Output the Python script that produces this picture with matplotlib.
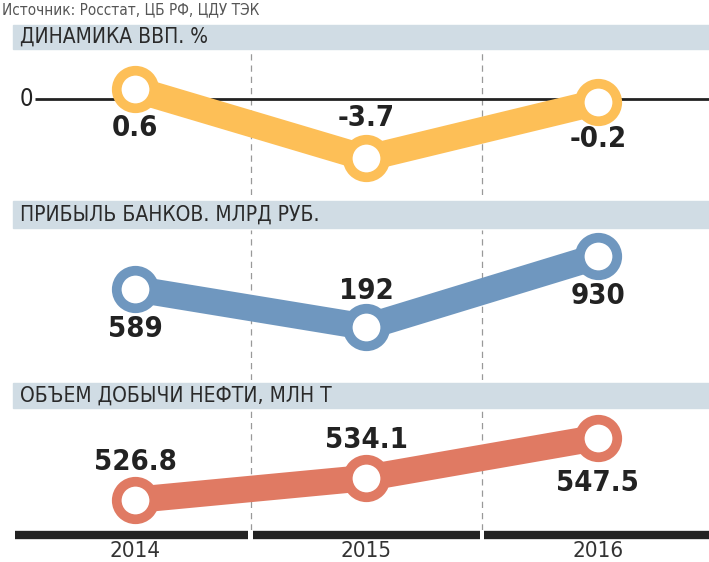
import matplotlib.pyplot as plt
from matplotlib.patches import Rectangle
from matplotlib import font_manager

years = ['2014', '2015', '2016']
gdp = [0.6, -3.7, -0.2]
gdp_labels = ['0.6', '-3.7', '-0.2']
banks = [589, 192, 930]
banks_labels = ['589', '192', '930']
oil = [526.8, 534.1, 547.5]
oil_labels = ['526.8', '534.1', '547.5']

# pick a condensed face if one is installed
fonts = font_manager.fontManager.ttflist
cond = [f for f in fonts if 'condensed' in str(f.stretch).lower() or 'Narrow' in f.name
        or 'Condensed' in f.name]
fam = cond[0].name if cond else 'DejaVu Sans'
plt.rcParams['font.family'] = [fam, 'DejaVu Sans']
plt.rcParams['font.stretch'] = 'condensed'

W, H = 709, 562
fig = plt.figure(figsize=(W / 100, H / 100), dpi=100)

def px_axes(top, bottom):
    return fig.add_axes([0, 1 - bottom / H, 1, (bottom - top) / H])

XLIM = (-0.583, 2.48)
xs = [0, 1, 2]
DARK = '#222222'

def panel(ax, vals, labels, color, ylim, offsets):
    ax.set_xlim(*XLIM)
    ax.set_ylim(*ylim)
    ax.axis('off')
    for xv in (0.5, 1.5):
        ax.axvline(xv, color='#999999', lw=0.9, ls=(0, (5, 4)), zorder=1)
    ax.plot(xs, vals, color=color, lw=19, solid_capstyle='round', zorder=3)
    ax.plot(xs, vals, 'o', ms=27, mfc='white', mec=color, mew=7, zorder=4)
    for x, v, t, off in zip(xs, vals, labels, offsets):
        ax.annotate(t, (x, v), xytext=(0, off), textcoords='offset pixels',
                    ha='center', va='center', fontsize=21, fontweight='bold',
                    color=DARK, zorder=5)

# header bands
def header(top, bottom, text):
    fig.patches.append(Rectangle((13 / W, 1 - bottom / H), 1, (bottom - top) / H,
                                 transform=fig.transFigure, color='#d0dce4', zorder=0))
    fig.text(20 / W, 1 - (top + bottom) / 2 / H, text, fontsize=15, color='#2a2a2a',
             va='center', ha='left')

fig.text(2 / W, 1 - 14 / H, 'Источник: Росстат, ЦБ РФ, ЦДУ ТЭК', fontsize=11,
         color='#555555', va='baseline', ha='left')

header(25, 49, 'ДИНАМИКА ВВП. %')
header(201, 228, 'ПРИБЫЛЬ БАНКОВ. МЛРД РУБ.')
header(383, 408, 'ОБЪЕМ ДОБЫЧИ НЕФТИ, МЛН Т')

# GDP
ax1 = px_axes(50, 195)
ax1.hlines(0, -0.43, XLIM[1], color=DARK, lw=2, zorder=2)
ax1.text(-0.44, 0, '0', ha='right', va='center', fontsize=17, color=DARK)
panel(ax1, gdp, gdp_labels, '#fdbf57', (-6.0, 3.06), [-39, 40, -37])

# Banks
ax2 = px_axes(230, 380)
panel(ax2, banks, banks_labels, '#6f97bf', (-362, 1205), [-40, 36, -40])

# Oil
ax3 = px_axes(410, 530)
panel(ax3, oil, oil_labels, '#e07a63', (516.8, 556.7), [38, 38, -45])

# bottom bar and years
ax4 = px_axes(530, 562)
ax4.set_xlim(*XLIM)
ax4.set_ylim(0, 32)
ax4.axis('off')
for a, b in [(-0.52, 0.49), (0.51, 1.49), (1.51, XLIM[1])]:
    ax4.hlines(27, a, b, color=DARK, lw=6)
for x, y in zip(xs, years):
    ax4.text(x, 1, y, ha='center', va='bottom', fontsize=16, color='#333333')

fig.savefig('out.png', dpi=100)
